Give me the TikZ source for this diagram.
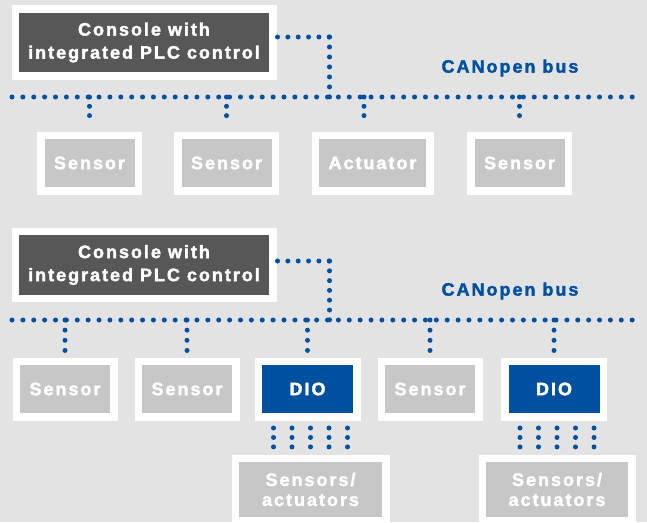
\documentclass[tikz,border=0pt]{standalone}
\usepackage{fontspec}
\setmainfont{Liberation Sans}[LetterSpace=11, FakeBold=2]
\usepackage{tikz}
\usetikzlibrary{decorations.markings}

\definecolor{bggray}{HTML}{E3E3E3}
\definecolor{darkbox}{HTML}{575757}
\definecolor{lightbox}{HTML}{C6C7C6}
\definecolor{canblue}{HTML}{0050A0}

\tikzset{
  unit/.style={fill=lightbox, draw=white, line width=7.5pt, text=white, inner sep=0pt,
    align=center, font=\fontsize{18}{23}\selectfont\bfseries,
    minimum width=97.5pt, minimum height=55.5pt},
  console/.style={unit, fill=darkbox, minimum width=257.5pt, minimum height=67pt},
  dio/.style={unit, fill=canblue, minimum width=98.5pt},
  mixed/.style={unit, font=\fontsize{18}{20}\selectfont\bfseries, minimum height=62.5pt},
  buslabel/.style={text=canblue, font=\fontsize{18}{23}\selectfont\bfseries},
  canline/.style={decorate, decoration={markings,
    mark=between positions 0 and 1 step #1 with {\fill[canblue] (0,0) circle (2.5pt);}}},
  canline/.default=10.35pt
}

\begin{document}
\begin{tikzpicture}[x=1pt, y=-1pt]
        \useasboundingbox (0,0) rectangle (647,522);
        \clip (0,0) rectangle (647,522);
        \fill[bggray] (0,0) rectangle (647,522);

        % upper network
        \node[console] (con1) at (144,42.5) {Console with\\integrated PLC control};
        \node[buslabel] (busA) at (510,68) {CANopen bus};
        \coordinate (busAL) at (12,97);
        \coordinate (busAR) at (633,97);
        \node[unit] (sen1) at (89.5,163) {Sensor};
        \node[unit] (sen2) at (226.5,163) {Sensor};
        \node[unit, minimum width=114.5pt] (act1) at (372.5,163) {Actuator};
        \node[unit] (sen3) at (519.5,163) {Sensor};

        \path[canline=10.88pt] (busAL) -- (busAR);
        \path[canline] ([xshift=1pt, yshift=5.5pt]con1.east) -- ++(52,0) coordinate (linkA);
        \path[canline=9.98pt] (linkA) -- (linkA |- busAL);
        \foreach \n in {sen1, sen2, sen3} {
          \path[canline=9.3pt] (\n.north |- busAL) -- ([yshift=7pt]\n.north);
          }
        \path[canline=9.3pt] ([xshift=-8.5pt]act1.north |- busAL) -- ([xshift=-8.5pt, yshift=7pt]act1.north);

        % lower network
        \node[console] (con2) at (144,265) {Console with\\integrated PLC control};
        \node[buslabel] (busB) at (510,291) {CANopen bus};
        \coordinate (busBL) at (12,320);
        \coordinate (busBR) at (633,320);
        \node[unit] (sen4) at (65,389) {Sensor};
        \node[unit] (sen5) at (187,389) {Sensor};
        \node[dio] (dio1) at (307.5,389) {DIO};
        \node[unit] (sen6) at (430,389) {Sensor};
        \node[dio] (dio2) at (554,389) {DIO};
        \node[mixed, minimum width=150.5pt] (mix1) at (310.5,489.5) {Sensors/\\actuators};
        \node[mixed, minimum width=149.5pt] (mix2) at (557,489.5) {Sensors/\\actuators};

        \path[canline=10.88pt] (busBL) -- (busBR);
        \path[canline] ([xshift=1pt, yshift=4pt]con2.east) -- ++(52,0) coordinate (linkB);
        \path[canline=9.8pt] (linkB) -- (linkB |- busBL);
        \foreach \n in {sen4, sen5, dio1, sen6, dio2} {
          \path[canline=10.15pt] (\n.north |- busBL) -- ([yshift=6.5pt]\n.north);
          }
        \foreach \dx in {-37, -18.5, 0, 18.5, 37} {
          \path[canline=9.45pt] ([xshift=\dx pt, yshift=-7.5pt]mix1.north |- dio1.south)
            -- ([xshift=\dx pt, yshift=7.5pt]mix1.north);
          \path[canline=9.45pt] ([xshift=\dx pt, yshift=-7.5pt]mix2.north |- dio2.south)
            -- ([xshift=\dx pt, yshift=7.5pt]mix2.north);
          }
      \end{tikzpicture}
\end{document}
